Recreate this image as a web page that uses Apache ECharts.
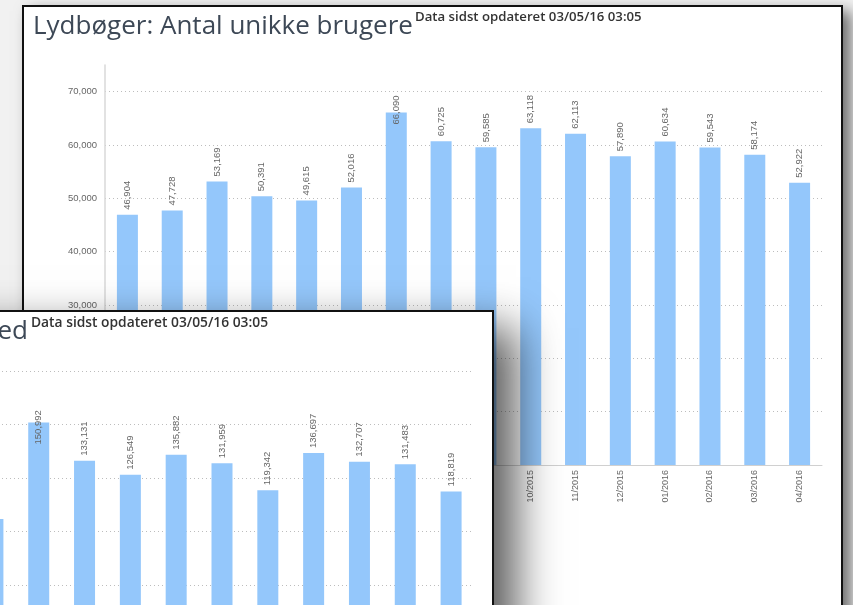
<!DOCTYPE html>
<html>
<head>
<meta charset="utf-8">
<script src="https://cdn.jsdelivr.net/npm/echarts@6.0.0/dist/echarts.min.js"></script>
<style>
    html, body {
        margin: 0;
        padding: 0;
        width: 853px;
        height: 605px;
        overflow: hidden;
        background: #f1f1f1;
    }
    .win {
        position: absolute;
        box-sizing: border-box;
        border: 2px solid #111;
        background: #fff;
        overflow: hidden;
    }
    #back {
        left: 22px;
        top: 5px;
        width: 821px;
        height: 640px;
        box-shadow: 8px 6px 14px rgba(0, 0, 0, 0.55);
    }
    #front {
        left: -120px;
        top: 310px;
        width: 614px;
        height: 560px;
        box-shadow: 22px 18px 42px rgba(0, 0, 0, 0.65);
    }
    .chart {
        position: absolute;
        left: 0;
        top: 0;
        width: 100%;
        height: 100%;
    }
    .title {
        position: absolute;
        top: 0;
        font-family: 'Open Sans', sans-serif;
        font-size: 26px;
        line-height: 34px;
        color: #3d4856;
        white-space: nowrap;
        z-index: 2;
    }
    .stamp {
        position: absolute;
        top: 0;
        font-family: 'Open Sans', sans-serif;
        font-weight: 600;
        color: #333;
        white-space: nowrap;
        z-index: 2;
    }
</style>
</head>
<body>
    <div id="back" class="win">
        <div id="chart-back" class="chart"></div>
        <div class="title" style="left:9px">Lydbøger: Antal unikke brugere</div>
        <div class="stamp" style="left:391px; font-size:13.2px">Data sidst opdateret 03/05/16 03:05</div>
    </div>
    <div id="front" class="win">
        <div id="chart-front" class="chart"></div>
        <div class="title" style="right:464px">Lydbøger: Antal udlån pr. måned</div>
        <div class="stamp" style="left:149px; font-size:13.8px">Data sidst opdateret 03/05/16 03:05</div>
    </div>

<script>
    // unikke brugere, 01/2015 - 04/2016
    var usersMonths = ['01/2015', '02/2015', '03/2015', '04/2015', '05/2015', '06/2015',
        '07/2015', '08/2015', '09/2015', '10/2015', '11/2015', '12/2015',
        '01/2016', '02/2016', '03/2016', '04/2016'];
    var usersValues = [46904, 47728, 53169, 50391, 49615, 52016, 66090, 60725,
        59585, 63118, 62113, 57890, 60634, 59543, 58174, 52922];

    // udlaan, only the visible part (06/2015 - 04/2016)
    var loanMonths = ['06/2015', '07/2015', '08/2015', '09/2015', '10/2015', '11/2015',
        '12/2015', '01/2016', '02/2016', '03/2016', '04/2016'];
    var loanValues = [105900, 150992, 133131, 126549, 135882, 131959,
        119342, 136697, 132707, 131483, 118819];

    var BAR_COLOR = '#94c7fb';
    var TEXT_COLOR = '#666';

    function fmt(v) {
        return Number(v).toLocaleString('en-US');
    }

    function buildOption(months, values, yMax, yInterval, grid, pushDown) {
        var data = values.map(function (v, i) {
            var item = {value: v};
            if (pushDown[i] != null) {
                item.label = {distance: pushDown[i]};
            }
            return item;
        });
        return {
            animation: false,
            grid: grid,
            xAxis: {
                type: 'category',
                data: months,
                axisLine: {lineStyle: {color: '#d0d0d0', width: 1}},
                axisTick: {show: false},
                axisLabel: {
                    rotate: 90,
                    fontSize: 9,
                    color: TEXT_COLOR,
                    margin: 5,
                    fontFamily: 'Liberation Sans'
                }
            },
            yAxis: {
                type: 'value',
                min: 0,
                max: yMax,
                interval: yInterval,
                axisLine: {show: true, lineStyle: {color: '#d8d8d8', width: 1.5}},
                axisTick: {show: false},
                axisLabel: {
                    fontSize: 9.5,
                    color: TEXT_COLOR,
                    margin: 8,
                    showMaxLabel: yMax % yInterval === 0,
                    fontFamily: 'Liberation Sans',
                    formatter: fmt
                },
                splitLine: {
                    show: true,
                    showMinLine: false,
                    showMaxLine: yMax % yInterval === 0,
                    lineStyle: {color: '#bdbdbd', type: [1, 3], width: 1}
                }
            },
            series: [{
                type: 'bar',
                barWidth: 21,
                itemStyle: {color: BAR_COLOR},
                label: {
                    show: true,
                    position: 'top',
                    rotate: 90,
                    align: 'left',
                    verticalAlign: 'middle',
                    distance: 5,
                    fontSize: 9.5,
                    color: TEXT_COLOR,
                    fontFamily: 'Liberation Sans',
                    formatter: function (p) { return fmt(p.value); }
                },
                data: data
            }]
        };
    }

    var backChart = echarts.init(document.getElementById('chart-back'), null, {renderer: 'canvas'});
    backChart.setOption(buildOption(usersMonths, usersValues, 75000, 10000,
        {left: 81, right: 19, top: 58, bottom: 178}, {6: -12}));

    var frontChart = echarts.init(document.getElementById('chart-front'), null, {renderer: 'canvas'});
    frontChart.setOption(buildOption(loanMonths, loanValues, 175000, 25000,
        {left: 88, right: 18, top: 59, bottom: 122}, {1: -22}));
</script>
</body>
</html>
